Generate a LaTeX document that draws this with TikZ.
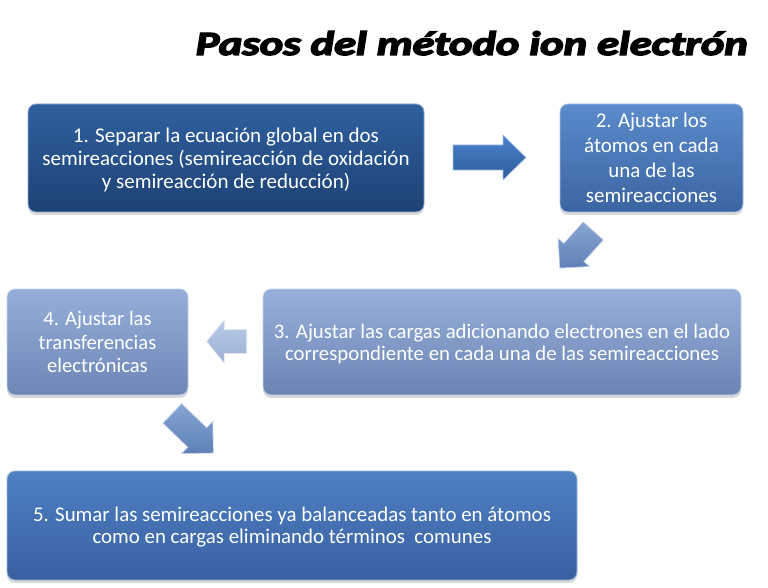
\documentclass[tikz,border=0pt]{standalone}
\usepackage{fontspec}
\setmainfont{Carlito}
\newfontfamily\titlefont{Carlito}[BoldItalicFeatures={FakeBold=4}]
\usetikzlibrary{shadows}
\definecolor{boneT}{HTML}{2F609F}\definecolor{boneB}{HTML}{1E4274}
\definecolor{btwoT}{HTML}{5B8BCB}\definecolor{btwoB}{HTML}{3B65A1}
\definecolor{bthreeT}{HTML}{97B0DB}\definecolor{bthreeB}{HTML}{6C84B2}
\definecolor{bfourT}{HTML}{95AED9}\definecolor{bfourB}{HTML}{6D86B4}
\definecolor{bfiveT}{HTML}{4E80C3}\definecolor{bfiveB}{HTML}{3960A0}
\definecolor{aoneT}{HTML}{4A82CA}\definecolor{aoneB}{HTML}{2C5C9C}
\definecolor{atwoT}{HTML}{88A6D2}\definecolor{atwoB}{HTML}{5F80B5}
\definecolor{athreeT}{HTML}{BACBE6}\definecolor{athreeB}{HTML}{9AB0D6}
\definecolor{afourT}{HTML}{86A5D4}\definecolor{afourB}{HTML}{5E80B6}
\tikzset{
  stepbox/.style 2 args={rounded corners=8pt, top color=#1, bottom color=#2,
    draw=#1!55!white, line width=0.8pt, text=white, align=center, inner sep=0pt,
    text depth=0pt,
    drop shadow={shadow xshift=0pt, shadow yshift=-3pt, opacity=0.3}},
  blockarr/.style 2 args={top color=#1, bottom color=#2, draw=#1!50!white, line width=0.6pt},
}
% cx, cy, angle, length, shaft half, head half, head length, style
\newcommand\blockarrow[8]{%
  \begin{scope}[shift={(#1,#2)},rotate=#3]
    \path[#8] ({-(#4)/2},{-(#5)}) -- ({(#4)/2-(#7)},{-(#5)}) -- ({(#4)/2-(#7)},{-(#6)})
      -- ({(#4)/2},0) -- ({(#4)/2-(#7)},{#6}) -- ({(#4)/2-(#7)},{#5}) -- ({-(#4)/2},{#5}) -- cycle;
  \end{scope}}
\begin{document}
\begin{tikzpicture}[x=1pt,y=-1pt]
\useasboundingbox (0,0) rectangle (768,588);
\node[anchor=base east, inner sep=0pt] (title) at (748,55)
  {\resizebox{552pt}{\height}{\fontsize{34}{40}\selectfont\titlefont\bfseries\itshape Pasos del método ion electrón}};
\node[stepbox={boneT}{boneB}, minimum width=396pt, minimum height=108pt,
  font=\fontsize{21}{23}\selectfont] (s1) at (226,158)
  {1. Separar la ecuación global en dos\\ semireacciones (semireacción de oxidación\\ y semireacción de reducción)};
\node[stepbox={btwoT}{btwoB}, minimum width=183pt, minimum height=108pt,
  font=\fontsize{21}{25}\selectfont] (s2) at (651.5,158)
  {2. Ajustar los\\ átomos en cada\\ una de las\\ semireacciones};
\node[stepbox={bthreeT}{bthreeB}, minimum width=478pt, minimum height=106pt,
  font=\fontsize{20.8}{22}\selectfont] (s3) at (502,342)
  {3. Ajustar las cargas adicionando electrones en el lado\\ correspondiente en cada una de las semireacciones};
\node[stepbox={bfourT}{bfourB}, minimum width=181pt, minimum height=106pt,
  font=\fontsize{20.6}{23.5}\selectfont] (s4) at (97.5,342)
  {4. Ajustar las\\ transferencias\\ electrónicas};
\node[stepbox={bfiveT}{bfiveB}, minimum width=570pt, minimum height=109pt,
  font=\fontsize{20.9}{22}\selectfont] (s5) at (292,525.5)
  {5. Sumar las semireacciones ya balanceadas tanto en átomos\\ como en cargas eliminando términos\ \ comunes};
% block arrows between the steps
\blockarrow{489.5}{157.5}{0}{73}{12.5}{22.5}{23}{blockarr={aoneT}{aoneB}}
\blockarrow{576.5}{249.5}{228}{50}{13.5}{21}{21}{blockarr={atwoT}{atwoB}}
\blockarrow{226.7}{341.5}{180}{40}{12}{21.5}{17.5}{blockarr={athreeT}{athreeB}}
\blockarrow{192.8}{433.2}{-44}{57}{13.5}{22.3}{22.3}{blockarr={afourT}{afourB}}
\end{tikzpicture}
\end{document}
